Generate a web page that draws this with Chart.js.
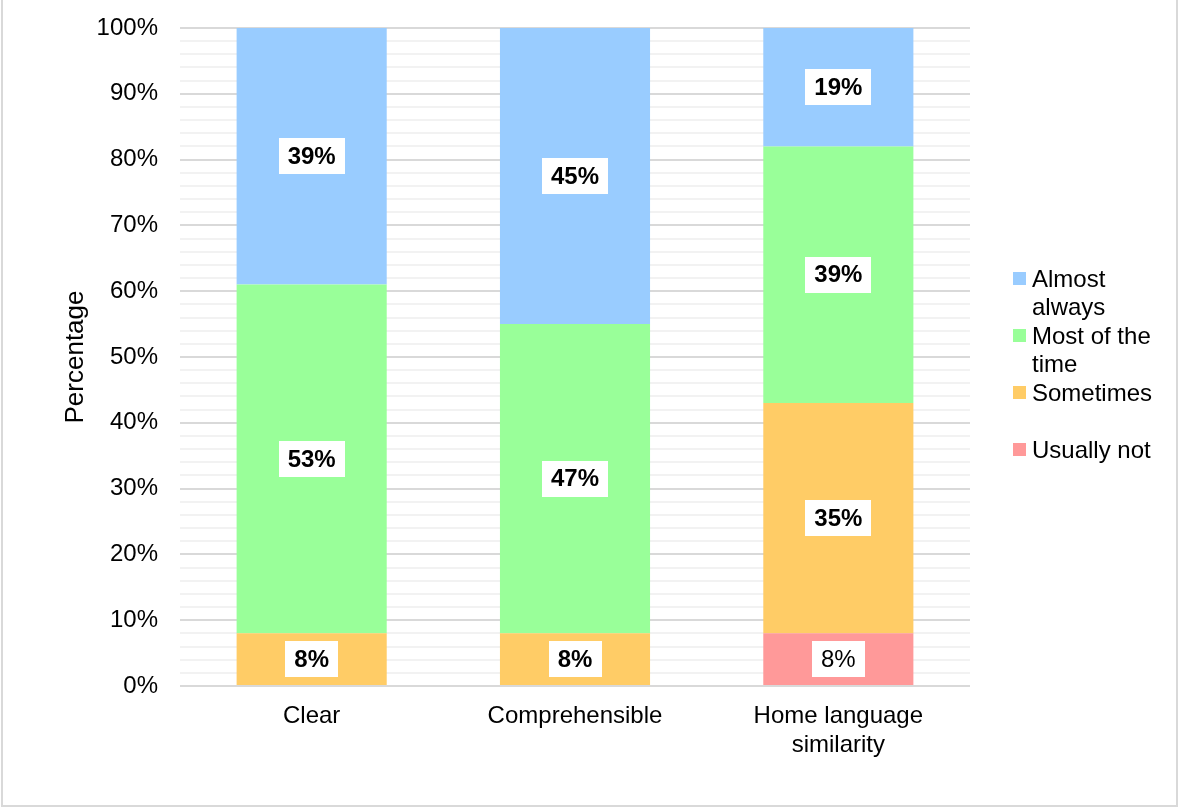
<!DOCTYPE html>
<html>
<head>
<meta charset="utf-8">
<title>Language ratings</title>
<script src="https://cdn.jsdelivr.net/npm/chart.js@4.4.1/dist/chart.umd.min.js"></script>
<style>
body{margin:0;background:#fff;}
canvas{display:block;}
</style>
</head>
<body>
<canvas id="ratingChart" width="1179" height="808"></canvas>
<script>
// categories and series values (percent)
const categories = [["Clear"], ["Comprehensible"], ["Home language", "similarity"]];
const usuallyNot = [null, null, 8];
const sometimes = [8, 8, 35];
const mostOfTheTime = [53, 47, 39];
const almostAlways = [39, 45, 19];
const yTicks = [0, 10, 20, 30, 40, 50, 60, 70, 80, 90, 100];

// legend lines, top to bottom
const legendItems = [
  {lines:["Almost", "always"], color:"#99ccff"},
  {lines:["Most of the", "time"], color:"#99ff99"},
  {lines:["Sometimes"], color:"#ffcc66"},
  {lines:["Usually not"], color:"#ff9999"}
];

const FONT = "'Liberation Sans', Arial, sans-serif";

// white background plus the thin frame round the page
const framePlugin = {
  id:"frame",
  beforeDraw(chart){
    const c = chart.ctx;
    c.save();
    c.fillStyle = "#fff";
    c.fillRect(0, 0, chart.width, chart.height);
    c.strokeStyle = "#d9d9d9";
    c.lineWidth = 2;
    c.beginPath();
    c.moveTo(2, 0);
    c.lineTo(2, chart.height - 2);
    c.lineTo(chart.width - 2, chart.height - 2);
    c.lineTo(chart.width - 2, 0);
    c.stroke();
    c.restore();
  }
};

// value labels in white boxes, centred in the visible part of each segment
const valueLabelPlugin = {
  id:"valueLabels",
  afterDatasetsDraw(chart){
    const c = chart.ctx;
    const area = chart.chartArea;
    chart.data.datasets.forEach((ds, di) => {
      const meta = chart.getDatasetMeta(di);
      meta.data.forEach((bar, i) => {
        const v = ds.data[i];
        if (v == null) return;
        const top = Math.max(Math.min(bar.y, bar.base), area.top);
        const bottom = Math.min(Math.max(bar.y, bar.base), area.bottom);
        const y = (top + bottom) / 2;
        const text = v + "%";
        c.save();
        c.font = (ds.labelBold ? "bold " : "") + "24px " + FONT;
        const w = c.measureText(text).width + 18;
        const h = 36;
        c.fillStyle = "#fff";
        c.fillRect(Math.round(bar.x - w / 2), Math.round(y - h / 2), Math.round(w), h);
        c.fillStyle = "#000";
        c.textAlign = "center";
        c.textBaseline = "middle";
        c.fillText(text, bar.x, y + 1);
        c.restore();
      });
    });
  }
};

// legend on the right, two text lines per entry
const sideLegendPlugin = {
  id:"sideLegend",
  afterDraw(chart){
    const c = chart.ctx;
    const x0 = 1013, firstLine = 279, lineStep = 28.5;
    c.save();
    c.font = "24px " + FONT;
    c.textBaseline = "middle";
    c.textAlign = "left";
    legendItems.forEach((item, k) => {
      const y = firstLine + k * 2 * lineStep;
      c.fillStyle = item.color;
      c.fillRect(x0, y - 7, 13, 13);
      c.fillStyle = "#000";
      item.lines.forEach((line, j) => {
        c.fillText(line, x0 + 19, y + j * lineStep + 1);
      });
    });
    c.restore();
  }
};

new Chart(document.getElementById("ratingChart"), {
  type:"bar",
  data:{
    labels:categories,
    datasets:[
      {label:"Usually not", data:usuallyNot, backgroundColor:"#ff9999", labelBold:false},
      {label:"Sometimes", data:sometimes, backgroundColor:"#ffcc66", labelBold:true},
      {label:"Most of the time", data:mostOfTheTime, backgroundColor:"#99ff99", labelBold:true},
      {label:"Almost always", data:almostAlways, backgroundColor:"#99ccff", labelBold:true}
    ]
  },
  options:{
    responsive:false,
    animation:false,
    layout:{padding:{top:28, right:209, bottom:0, left:0}},
    datasets:{bar:{categoryPercentage:1, barPercentage:0.57, borderWidth:0}},
    plugins:{legend:{display:false}, tooltip:{enabled:false}},
    scales:{
      x:{
        stacked:true,
        grid:{display:false},
        border:{display:false},
        ticks:{color:"#000", font:{family:FONT, size:24}, padding:8, maxRotation:0},
        afterFit(scale){ scale.height = 122; }
      },
      y:{
        stacked:true,
        min:0,
        max:100,
        border:{display:false},
        grid:{
          drawTicks:false,
          lineWidth:2,
          color(ctx){ return yTicks.includes(ctx.tick.value) ? "#d9d9d9" : "#f2f2f2"; }
        },
        ticks:{
          stepSize:2,
          autoSkip:false,
          padding:22,
          color:"#000",
          font:{family:FONT, size:24},
          callback(value){ return yTicks.includes(value) ? value + "%" : ""; }
        },
        title:{
          display:true,
          text:"Percentage",
          color:"#000",
          font:{family:FONT, size:26},
          padding:{top:60, bottom:0}
        },
        afterFit(scale){
          scale.width = 180;
          scale.paddingTop = 0;
          scale.paddingBottom = 0;
        }
      }
    }
  },
  plugins:[framePlugin, valueLabelPlugin, sideLegendPlugin]
});
</script>
</body>
</html>
